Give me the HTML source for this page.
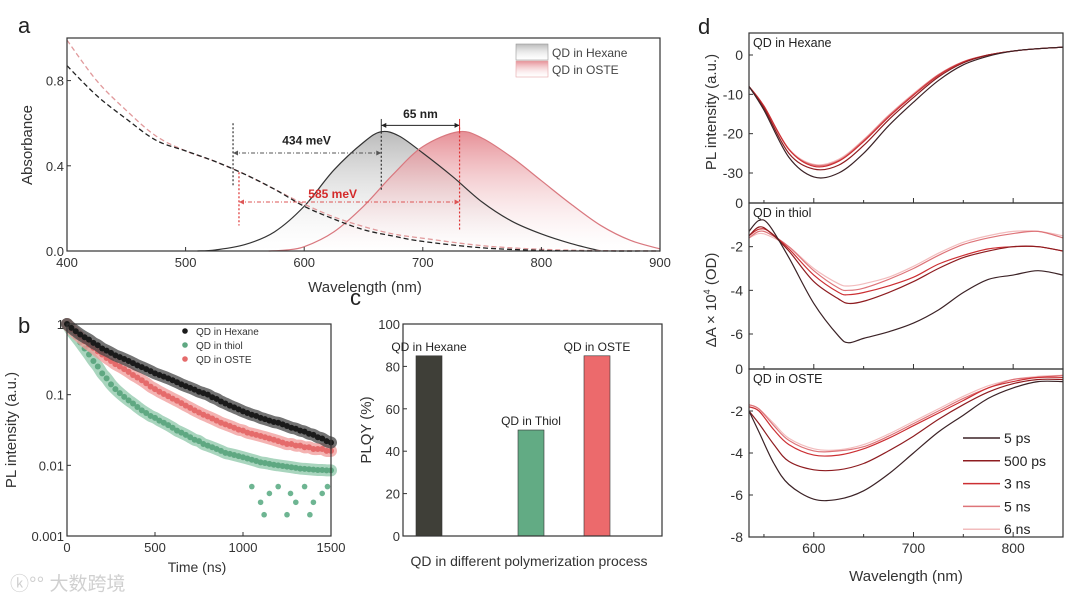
<!DOCTYPE html>
<html><head><meta charset="utf-8">
<style>
html,body{margin:0;padding:0;background:#fff;}
svg{display:block;font-family:"Liberation Sans","Noto Sans CJK SC",sans-serif;}
</style></head>
<body>
<svg id="fig" width="1080" height="604" viewBox="0 0 1080 604">
<defs>
<linearGradient id="gGray" x1="0" y1="0" x2="0" y2="1"><stop offset="0" stop-color="#a9a9a9" stop-opacity="0.8"/><stop offset="1" stop-color="#ffffff" stop-opacity="0.2"/></linearGradient>
<linearGradient id="gPink" x1="0" y1="0" x2="0" y2="1"><stop offset="0" stop-color="#e27c84" stop-opacity="0.85"/><stop offset="1" stop-color="#ffffff" stop-opacity="0.2"/></linearGradient>
</defs>
<g id="root"></g>
<text x="10" y="590" font-size="19" fill="#d0d0d0">ⓚ°° 大数跨境</text>
</svg>
<script>
// ---------- Panel a data ----------
const absWl = [400,425,450,475,500,525,550,575,600,625,650,675,700,750,800,850,900];
const absHex = [0.87,0.73,0.62,0.52,0.47,0.42,0.36,0.29,0.21,0.15,0.10,0.07,0.045,0.015,0.003,0,0];
const absOste = [0.99,0.80,0.66,0.54,0.47,0.42,0.36,0.29,0.22,0.16,0.115,0.08,0.06,0.025,0.008,0.002,0];
const plHexWl = [510,525,550,575,600,625,650,665,680,700,725,750,775,800,825,850];
const plHex = [0,0.005,0.03,0.09,0.21,0.38,0.51,0.56,0.54,0.46,0.35,0.23,0.14,0.08,0.035,0];
const plOsteWl = [570,585,600,625,650,675,700,730,750,775,800,825,850,875,900];
const plOste = [0,0.005,0.02,0.09,0.21,0.36,0.49,0.56,0.53,0.44,0.33,0.22,0.12,0.05,0.01];
const aXTicks = [400,500,600,700,800,900];
const aYTicks = [0.0,0.4,0.8];
// ---------- Panel b data ----------
const bStep = 25;
const decayHex = [1,0.88,0.79,0.71,0.65,0.6,0.54,0.5,0.45,0.42,0.39,0.36,0.34,0.32,0.3,0.28,0.26,0.245,0.23,0.215,0.2,0.19,0.18,0.17,0.16,0.15,0.14,0.132,0.125,0.118,0.11,0.105,0.1,0.092,0.087,0.08,0.075,0.07,0.066,0.062,0.058,0.055,0.052,0.05,0.047,0.045,0.043,0.041,0.04,0.038,0.036,0.034,0.033,0.031,0.03,0.028,0.027,0.025,0.024,0.022,0.021];
const decayThiol = [1,0.8,0.66,0.55,0.45,0.37,0.3,0.25,0.2,0.17,0.14,0.12,0.105,0.093,0.083,0.075,0.067,0.06,0.055,0.05,0.047,0.043,0.04,0.037,0.034,0.031,0.029,0.027,0.025,0.023,0.022,0.02,0.019,0.018,0.017,0.016,0.015,0.0145,0.014,0.0135,0.013,0.0125,0.012,0.0115,0.011,0.0108,0.0105,0.0102,0.01,0.0098,0.0096,0.0094,0.0092,0.009,0.0089,0.0088,0.0087,0.0086,0.0086,0.0085,0.0085];
const decayOste = [1,0.85,0.74,0.65,0.57,0.51,0.46,0.41,0.37,0.33,0.3,0.27,0.25,0.23,0.21,0.19,0.175,0.16,0.145,0.13,0.12,0.11,0.102,0.095,0.088,0.082,0.076,0.07,0.065,0.06,0.056,0.052,0.049,0.046,0.043,0.04,0.038,0.036,0.034,0.032,0.031,0.029,0.028,0.027,0.026,0.025,0.024,0.023,0.022,0.021,0.02,0.02,0.019,0.019,0.018,0.018,0.017,0.017,0.017,0.016,0.016];
const thiolLowT = [1050,1100,1120,1150,1200,1250,1270,1300,1350,1380,1400,1450,1480];
const thiolLowV = [0.005,0.003,0.002,0.004,0.005,0.002,0.004,0.003,0.005,0.002,0.003,0.004,0.005];
const bXTicks = [0,500,1000,1500];
const bYTicks = [1,0.1,0.01,0.001];
const bYLabels = ["1","0.1","0.01","0.001"];
// ---------- Panel c data ----------
const cCats = ["QD in Hexane","QD in Thiol","QD in OSTE"];
const cVals = [85,50,85];
const cYTicks = [0,20,40,60,80,100];
// ---------- Panel d data ----------
const dWlHex = [535,550,575,600,625,650,675,700,725,750,775,800,825,850];
const dHex5ps = [-8,-14,-26,-31,-30,-25,-18,-12,-6.5,-2.5,-0.3,1,1.6,2];
const dHex500ps = [-8,-13.5,-25,-29,-28,-23,-16.5,-10.8,-5.6,-2,0,1,1.6,2];
const dHex3ns = [-8,-13,-24,-28.3,-27,-22,-15.8,-10.2,-5.2,-1.8,0,1,1.6,2];
const dHex5ns = [-8,-13,-24,-28,-26.8,-21.7,-15.5,-10,-5,-1.7,0,1,1.6,2];
const dHex6ns = [-8,-13,-23.8,-27.8,-26.5,-21.5,-15.3,-9.8,-5,-1.7,0,1,1.6,2];
const dWlThiol = [535,545,555,575,600,625,635,650,675,700,725,750,775,800,825,850];
const dThiol5ps = [-1.3,-0.8,-1.0,-2.5,-4.6,-6.1,-6.4,-6.2,-5.9,-5.5,-4.9,-4.1,-3.5,-3.3,-3.1,-3.3];
const dThiol500ps = [-1.5,-1.1,-1.3,-2.2,-3.6,-4.4,-4.6,-4.5,-4.1,-3.6,-3.0,-2.5,-2.2,-2.0,-2.0,-2.2];
const dThiol3ns = [-1.5,-1.2,-1.3,-2.1,-3.3,-4.1,-4.2,-4.1,-3.8,-3.4,-2.8,-2.4,-2.1,-2.0,-2.0,-2.2];
const dThiol5ns = [-1.6,-1.3,-1.4,-2.0,-3.1,-3.9,-4.0,-3.9,-3.5,-3.0,-2.4,-1.9,-1.6,-1.4,-1.3,-1.6];
const dThiol6ns = [-1.6,-1.4,-1.5,-2.0,-3.0,-3.7,-3.8,-3.7,-3.4,-2.9,-2.3,-1.8,-1.5,-1.3,-1.3,-1.5];
const dWlOste = [535,545,560,575,600,625,650,675,700,725,750,775,800,825,850];
const dOste5ps = [-2.0,-3.0,-4.5,-5.5,-6.2,-6.2,-5.8,-5.0,-4.0,-3.0,-2.2,-1.4,-0.9,-0.6,-0.6];
const dOste500ps = [-2.0,-2.6,-3.6,-4.4,-4.8,-4.8,-4.5,-3.9,-3.2,-2.4,-1.7,-1.1,-0.7,-0.5,-0.5];
const dOste3ns = [-1.8,-2.0,-2.9,-3.6,-4.1,-4.1,-3.8,-3.3,-2.7,-2.1,-1.5,-0.9,-0.6,-0.4,-0.4];
const dOste5ns = [-1.7,-1.9,-2.7,-3.4,-3.9,-3.9,-3.7,-3.2,-2.6,-2.0,-1.4,-0.9,-0.5,-0.4,-0.3];
const dOste6ns = [-1.7,-1.9,-2.6,-3.3,-3.8,-3.85,-3.6,-3.1,-2.5,-1.9,-1.3,-0.8,-0.5,-0.35,-0.3];
const dLegend = ["5 ps","500 ps","3 ns","5 ns","6 ns"];
const dColors = ["#3b2226","#8e1c20","#cc2f33","#de7479","#f2bcbd"];

const NS="http://www.w3.org/2000/svg";
const root=document.getElementById('root');
function el(tag,attrs,parent,txt){const e=document.createElementNS(NS,tag);for(const k in attrs)e.setAttribute(k,attrs[k]);if(txt!==undefined)e.textContent=txt;(parent||root).appendChild(e);return e;}
function lin(d0,d1,r0,r1){return v=>r0+(v-d0)*(r1-r0)/(d1-d0);}
function smooth(pts){let d=`M${pts[0][0]},${pts[0][1]}`;for(let i=0;i<pts.length-1;i++){const p0=pts[i-1]||pts[i],p1=pts[i],p2=pts[i+1],p3=pts[i+2]||p2;const c1=[p1[0]+(p2[0]-p0[0])/6,p1[1]+(p2[1]-p0[1])/6],c2=[p2[0]-(p3[0]-p1[0])/6,p2[1]-(p3[1]-p1[1])/6];d+=` C${c1[0]},${c1[1]} ${c2[0]},${c2[1]} ${p2[0]},${p2[1]}`;}return d;}
function txt(x,y,s,size,attrs,name){const t=el('text',Object.assign({x:x,y:y,'font-size':size,fill:'#222'},attrs||{}),root,s);return t;}

// ===== Panel a =====
const aL=67,aR=660,aT=38,aB=251;
const ax=lin(400,900,aL,aR), ay=lin(0,1,aB,aT);
txt(18,33,'a',22,{},'panel-label-a');
const aPlot=el('g',{});
const hexFillPts=plHexWl.map((w,i)=>[ax(w),ay(plHex[i])]);
let p=el('path',{d:smooth(hexFillPts)+` L${ax(plHexWl[plHexWl.length-1])},${aB} L${ax(plHexWl[0])},${aB} Z`,fill:'url(#gGray)'},aPlot);
const osteFillPts=plOsteWl.map((w,i)=>[ax(w),ay(plOste[i])]);
p=el('path',{d:smooth(osteFillPts)+` L${ax(plOsteWl[plOsteWl.length-1])},${aB} L${ax(plOsteWl[0])},${aB} Z`,fill:'url(#gPink)'},aPlot);
p=el('path',{d:smooth(hexFillPts),fill:'none',stroke:'#333',"stroke-width":1.2},aPlot);
p=el('path',{d:smooth(osteFillPts),fill:'none',stroke:'#d9787f',"stroke-width":1.2},aPlot);
p=el('path',{d:smooth(absWl.map((w,i)=>[ax(w),ay(absOste[i])])),fill:'none',stroke:'#e19a9c',"stroke-width":1.3,"stroke-dasharray":"5,3"},aPlot);
p=el('path',{d:smooth(absWl.map((w,i)=>[ax(w),ay(absHex[i])])),fill:'none',stroke:'#222',"stroke-width":1.3,"stroke-dasharray":"5,3"},aPlot);
function vdot(w,v0,v1,c,n){const l=el('line',{x1:ax(w),x2:ax(w),y1:ay(v0),y2:ay(v1),stroke:c,'stroke-width':1.2,'stroke-dasharray':'2,2'},aPlot);}
function harrow(w0,w1,v,c,n,dash){const y=ay(v);const g=el('g',{},aPlot);
el('line',{x1:ax(w0),x2:ax(w1),y1:y,y2:y,stroke:c,'stroke-width':1,'stroke-dasharray':dash?'4,2,1,2':''},g);
el('path',{d:`M${ax(w0)},${y} l5,-2.5 v5 Z M${ax(w1)},${y} l-5,-2.5 v5 Z`,fill:c},g);}
vdot(540,0.6,0.3,'#333','dotted-540');vdot(665,0.56,0.28,'#333','dotted-665');
vdot(545,0.37,0.12,'#d33','dotted-545');vdot(731,0.58,0.1,'#d33','dotted-731');
harrow(540,665,0.46,'#555','arrow-434mev',true);harrow(545,731,0.23,'#d55','arrow-585mev',true);
harrow(665,731,0.59,'#222','arrow-65nm',false);
el('line',{x1:ax(665),x2:ax(665),y1:ay(0.62),y2:ay(0.56),stroke:'#333','stroke-width':1},aPlot);
el('line',{x1:ax(731),x2:ax(731),y1:ay(0.62),y2:ay(0.56),stroke:'#d33','stroke-width':1},aPlot);
txt(ax(602),ay(0.5),'434 meV',12,{'text-anchor':'middle','font-weight':'bold'},'label-434mev');
txt(ax(624),ay(0.25),'585 meV',12,{'text-anchor':'middle','font-weight':'bold',fill:'#d42a2a'},'label-585mev');
txt(ax(698),ay(0.625),'65 nm',12,{'text-anchor':'middle','font-weight':'bold'},'label-65nm');
el('rect',{x:aL,y:aT,width:aR-aL,height:aB-aT,fill:'none',stroke:'#333','stroke-width':1.2});
aXTicks.forEach(v=>{el('line',{x1:ax(v),x2:ax(v),y1:aB,y2:aB-4,stroke:'#333'});txt(ax(v),aB+16,String(v),13,{'text-anchor':'middle',fill:'#333'},'a-x-tick-'+v);});
aYTicks.forEach(v=>{el('line',{x1:aL,x2:aL+4,y1:ay(v),y2:ay(v),stroke:'#333'});txt(aL-3,ay(v)+5,v.toFixed(1),13,{'text-anchor':'end',fill:'#333'},'a-y-tick-'+v);});
txt(365,292,'Wavelength (nm)',15,{'text-anchor':'middle',fill:'#333'},'a-x-axis-title');
txt(0,0,'Absorbance',15,{'text-anchor':'middle',fill:'#333',transform:'translate(32,145) rotate(-90)'},'a-y-axis-title');
let lg=el('rect',{x:516,y:44,width:32,height:16,fill:'url(#gGray)',stroke:'#999','stroke-width':0.6});
lg=el('rect',{x:516,y:61,width:32,height:16,fill:'url(#gPink)',stroke:'#e4a7a9','stroke-width':0.6});
txt(552,57,'QD in Hexane',12,{fill:'#444'},'legend-hexane');txt(552,74,'QD in OSTE',12,{fill:'#444'},'legend-oste');

// ===== Panel b =====
const bL=67,bR=331,bT=324,bB=536;
const bx=lin(0,1500,bL,bR), by=v=>lin(0,-3,bT,bB)(Math.log10(v));
txt(18,333,'b',22,{},'panel-label-b');
function scatter(arr,col,band,name){const g=el('g',{});
const pts=arr.map((v,i)=>[bx(i*bStep),by(v)]);
el('path',{d:smooth(pts),fill:'none',stroke:band,'stroke-width':12,'stroke-linecap':'round',opacity:0.75},g);
arr.forEach((v,i)=>{const c=el('circle',{cx:bx(i*bStep),cy:by(v),r:3,fill:col},g);});}
scatter(decayThiol,'#5fa882','#8cc7a8','thiol-decay');
thiolLowT.forEach((t,i)=>{const c=el('circle',{cx:bx(t),cy:by(thiolLowV[i]),r:2.8,fill:'#6eb592'});});
scatter(decayOste,'#e56b6b','#f09a98','oste-decay');
scatter(decayHex,'#1a1a1a','#444','hexane-decay');
el('rect',{x:bL,y:bT,width:bR-bL,height:bB-bT,fill:'none',stroke:'#333','stroke-width':1.2});
bXTicks.forEach(v=>{el('line',{x1:bx(v),x2:bx(v),y1:bB,y2:bB-4,stroke:'#333'});txt(bx(v),bB+16,String(v),13,{'text-anchor':'middle',fill:'#333'},'b-x-tick-'+v);});
bYTicks.forEach((v,i)=>{el('line',{x1:bL,x2:bL+4,y1:by(v),y2:by(v),stroke:'#333'});txt(bL-3,by(v)+5,bYLabels[i],13,{'text-anchor':'end',fill:'#333'},'b-y-tick-'+i);});
txt(197,572,'Time (ns)',14,{'text-anchor':'middle',fill:'#333'},'b-x-axis-title');
txt(0,0,'PL intensity (a.u.)',15,{'text-anchor':'middle',fill:'#333',transform:'translate(16,430) rotate(-90)'},'b-y-axis-title');
[['QD in Hexane','#1a1a1a'],['QD in thiol','#5fa882'],['QD in OSTE','#e56b6b']].forEach((e,i)=>{el('circle',{cx:185,cy:331+i*14,r:2.8,fill:e[1]});txt(196,335+i*14,e[0],10,{fill:'#333'},'b-legend-'+i);});

// ===== Panel c =====
const cL=403,cR=662,cT=324,cB=536;
const cy=lin(0,100,cB,cT);
const cCenters=[cL+26,cL+128,cL+194];
const cColors=['#3f3f38','#62ab84','#ec6a6c'];
txt(350,305,'c',22,{},'panel-label-c');
cVals.forEach((v,i)=>{const r=el('rect',{x:cCenters[i]-13,y:cy(v),width:26,height:cB-cy(v),fill:cColors[i],stroke:'#333','stroke-width':0.6});
txt(cCenters[i],cy(v)-5,cCats[i],12,{'text-anchor':'middle',fill:'#222'},'bar-label-'+i);});
el('rect',{x:cL,y:cT,width:cR-cL,height:cB-cT,fill:'none',stroke:'#333','stroke-width':1.2});
cYTicks.forEach(v=>{el('line',{x1:cL,x2:cL+4,y1:cy(v),y2:cy(v),stroke:'#333'});txt(cL-3,cy(v)+5,String(v),13,{'text-anchor':'end',fill:'#333'},'c-y-tick-'+v);});
txt(529,566,'QD in different polymerization process',14,{'text-anchor':'middle',fill:'#333'},'c-x-axis-title');
txt(0,0,'PLQY (%)',15,{'text-anchor':'middle',fill:'#333',transform:'translate(371,430) rotate(-90)'},'c-y-axis-title');

// ===== Panel d =====
const dL=749,dR=1063;
const dx=lin(535,850,dL,dR);
txt(698,34,'d',22,{},'panel-label-d');
const subs=[
 {name:'hexane',t:33,b:203,y:lin(0,-30,55,173),ticks:[0,-10,-20,-30],wl:dWlHex,series:[dHex6ns,dHex5ns,dHex3ns,dHex500ps,dHex5ps],label:'QD in Hexane'},
 {name:'thiol',t:203,b:369,y:lin(0,-6,203,334),ticks:[0,-2,-4,-6],wl:dWlThiol,series:[dThiol6ns,dThiol5ns,dThiol3ns,dThiol500ps,dThiol5ps],label:'QD in thiol'},
 {name:'oste',t:369,b:537,y:lin(0,-8,369,537),ticks:[0,-2,-4,-6,-8],wl:dWlOste,series:[dOste6ns,dOste5ns,dOste3ns,dOste500ps,dOste5ps],label:'QD in OSTE'}];
subs.forEach(s=>{
 s.series.forEach((arr,k)=>{const ci=4-k;const pth=el('path',{d:smooth(s.wl.map((w,i)=>[dx(w),s.y(arr[i])])),fill:'none',stroke:dColors[ci],'stroke-width':1.2});});
 el('rect',{x:dL,y:s.t,width:dR-dL,height:s.b-s.t,fill:'none',stroke:'#333','stroke-width':1.2});
 s.ticks.forEach(v=>{el('line',{x1:dL,x2:dL+4,y1:s.y(v),y2:s.y(v),stroke:'#333'});txt(dL-6,s.y(v)+5,String(v),14,{'text-anchor':'end',fill:'#333'},'d-'+s.name+'-y-tick-'+v);});
 [550,600,650,700,750,800,850].forEach(v=>el('line',{x1:dx(v),x2:dx(v),y1:s.b,y2:s.b-(v%100?3:5),stroke:'#333'}));
 txt(dL+4,s.t+14,s.label,12.5,{fill:'#222'},'d-'+s.name+'-label');
});
[600,700,800].forEach(v=>txt(dx(v),553,String(v),14,{'text-anchor':'middle',fill:'#333'},'d-x-tick-'+v));
txt(906,581,'Wavelength (nm)',15,{'text-anchor':'middle',fill:'#333'},'d-x-axis-title');
txt(0,0,'PL intensity (a.u.)',15,{'text-anchor':'middle',fill:'#333',transform:'translate(716,112) rotate(-90)'},'d-pl-axis-title');
const dyt=txt(0,0,'ΔA × 10',15,{'text-anchor':'middle',fill:'#333',transform:'translate(716,300) rotate(-90)'},'d-y-axis-title');
el('tspan',{'font-size':9,dy:-6},dyt,'4');el('tspan',{dy:6},dyt,' (OD)');
dLegend.forEach((n,i)=>{const yy=438+i*22.8;const l=el('line',{x1:963,x2:1000,y1:yy,y2:yy,stroke:dColors[i],'stroke-width':1.5});txt(1004,yy+5,n,14,{fill:'#222'},'d-legend-'+i);});
</script>
</body></html>
